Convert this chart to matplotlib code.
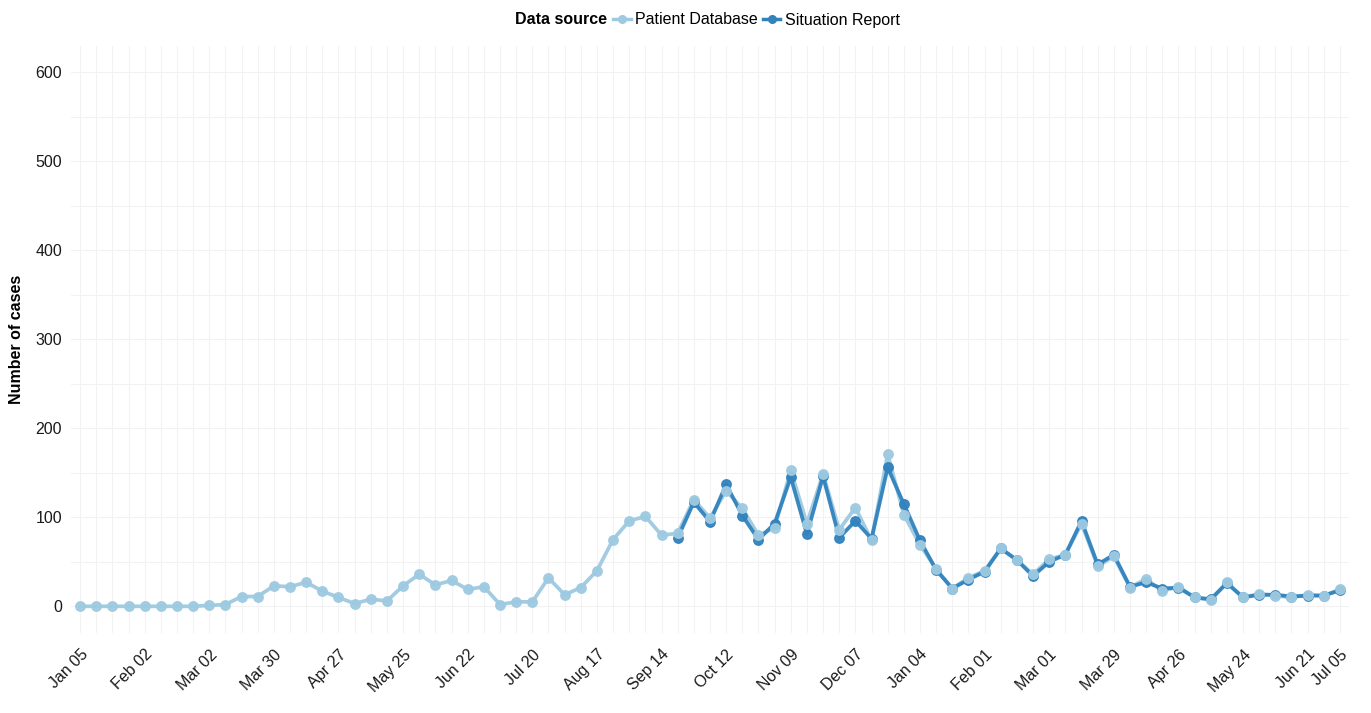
import numpy as np
import matplotlib
matplotlib.use("Agg")
import matplotlib.pyplot as plt

plt.rcParams['font.family'] = ['Liberation Sans', 'DejaVu Sans']

# weekly case counts, week 0 = Jan 05
patient_db = [0, 0, 0, 0, 0, 0, 0, 0, 1, 2,
              11, 11, 23, 22, 27, 17, 10, 3, 8, 6,
              23, 36, 24, 29, 19, 22, 2, 5, 5, 32,
              13, 21, 40, 75, 96, 101, 80, 82, 120, 99,
              130, 110, 80, 88, 153, 93, 149, 86, 111, 74,
              171, 103, 69, 42, 20, 32, 40, 65, 52, 36,
              53, 58, 93, 45, 56, 21, 31, 17, 22, 10,
              7, 27, 10, 14, 12, 10, 13, 12, 19]
sitrep_start = 37
sitrep = [77, 117, 95, 137, 102, 75, 93, 145, 81, 146,
          77, 96, 76, 156, 115, 74, 41, 20, 30, 39,
          65, 52, 34, 50, 58, 96, 47, 58, 22, 27,
          20, 21, 10, 8, 26, 10, 13, 13, 11, 12,
          12, 18]

tick_labels = ["Jan 05", "Feb 02", "Mar 02", "Mar 30", "Apr 27", "May 25",
               "Jun 22", "Jul 20", "Aug 17", "Sep 14", "Oct 12", "Nov 09",
               "Dec 07", "Jan 04", "Feb 01", "Mar 01", "Mar 29", "Apr 26",
               "May 24", "Jun 21", "Jul 05"]

light = "#9ECAE1"
dark = "#3182BD"

weeks_pd = np.arange(len(patient_db))
weeks_sr = np.arange(len(sitrep)) + sitrep_start
tick_pos = list(range(0, 77, 4)) + [len(patient_db) - 1]

fig = plt.figure(figsize=(13.71, 7.13), dpi=100)
ax = fig.add_axes([71 / 1371, 80 / 713, 1278 / 1371, 587.3 / 713])

# grid: every week vertically, every 50 horizontally
for w in weeks_pd:
    ax.axvline(w, color="#F2F2F2", lw=0.8, zorder=0)
for v in range(0, 601, 50):
    ax.axhline(v, color="#F2F2F2", lw=0.8, zorder=0)

ax.plot(weeks_pd, patient_db, color=light, lw=2.7, alpha=0.95, zorder=2)
ax.plot(weeks_sr, sitrep, color=dark, lw=2.7, alpha=0.95, zorder=2)
ax.plot(weeks_sr, sitrep, lw=0, marker="o", ms=6.8, color=dark, alpha=0.95,
        zorder=3)
ax.plot(weeks_pd, patient_db, lw=0, marker="o", ms=6.8, color=light,
        alpha=0.95, zorder=3)

ax.set_xlim(-0.56, len(patient_db) - 1 + 0.56)
ax.set_ylim(-30, 630)
ax.set_yticks(range(0, 601, 100))
ax.set_xticks(tick_pos)
ax.set_xticklabels(tick_labels, rotation=45, ha="right", va="top",
                   rotation_mode="anchor")
ax.tick_params(axis="both", length=0, labelsize=11.5, colors="#1a1a1a")
ax.tick_params(axis="y", pad=6.5)
ax.tick_params(axis="x", pad=10)
for s in ax.spines.values():
    s.set_visible(False)
ax.set_facecolor("none")

ax.set_ylabel("Number of cases", fontweight="bold", fontsize=11.5)
ax.yaxis.set_label_coords(-0.0365, 0.5)

# legend on top
fig.text(515 / 1371, 1 - 20 / 713, "Data source", fontweight="bold",
         fontsize=11.5, ha="left", va="center")
h1, = ax.plot([], [], color=light, lw=2.5, marker="o", ms=5.5)
h2, = ax.plot([], [], color=dark, lw=2.5, marker="o", ms=5.5)
fig.legend([h1, h2], ["Patient Database", "Situation Report"], ncol=2,
           loc="center left", bbox_to_anchor=(613 / 1371, 1 - 20 / 713),
           frameon=False, fontsize=11.5, handlelength=1.1, handletextpad=0.3,
           columnspacing=0.3, borderpad=0, borderaxespad=0)

fig.savefig("out.png", dpi=100)
